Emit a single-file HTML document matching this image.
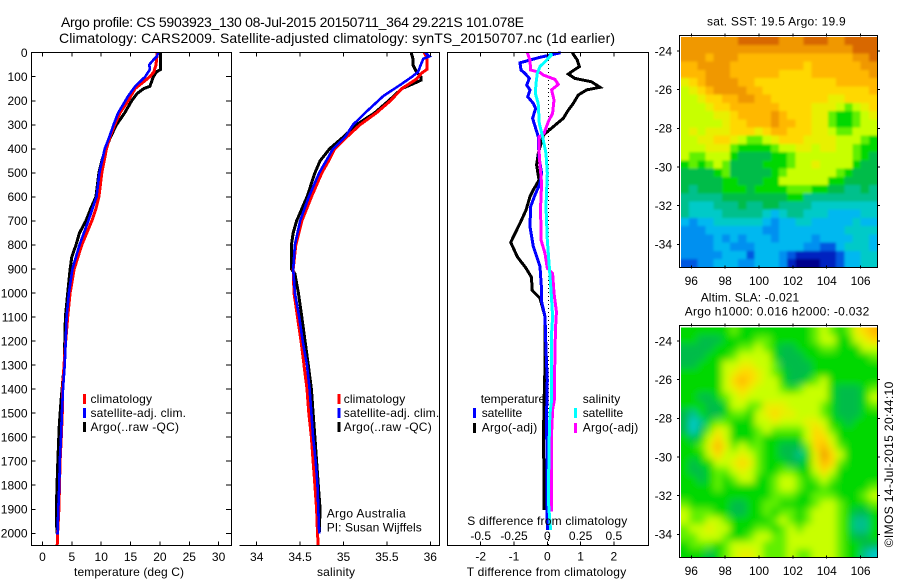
<!DOCTYPE html>
<html lang="en">
<head>
<meta charset="utf-8">
<title>Argo profile CS 5903923_130</title>
<style>
html,body{margin:0;padding:0;background:#fff;}
svg{display:block;}
text{font-family:"Liberation Sans",sans-serif;font-size:12px;fill:#000;}
.t14{font-size:14px;}
.line{fill:none;shape-rendering:crispEdges;stroke-linejoin:miter;}
.ax{stroke:#000;stroke-width:1;shape-rendering:crispEdges;fill:none;}
</style>
</head>
<body>
<svg id="fig" xmlns="http://www.w3.org/2000/svg" width="900" height="580" viewBox="0 0 900 580">
  <defs>
    <filter id="sstBlur" x="0" y="0" width="100%" height="100%"><feGaussianBlur stdDeviation="1.4"/></filter>
    <filter id="slaBlur" x="0" y="0" width="100%" height="100%"><feGaussianBlur stdDeviation="3.6"/></filter>
    <clipPath id="sstClip"><rect x="681" y="37" width="196" height="230.3"/></clipPath>
    <clipPath id="slaClip"><rect x="681" y="327.5" width="196" height="229.8"/></clipPath>
  </defs>
  <rect x="0" y="0" width="900" height="580" fill="#fff"/>
  <text class="t14" x="61" y="27" textLength="463" lengthAdjust="spacing">Argo profile: CS 5903923_130 08-Jul-2015 20150711_364 29.221S 101.078E</text>
  <text class="t14" x="59" y="43" textLength="556" lengthAdjust="spacing">Climatology: CARS2009. Satellite-adjusted climatology: synTS_20150707.nc (1d earlier)</text>

  <g id="maps">
    <g clip-path="url(#sstClip)"><g id="sstCells" filter="url(#sstBlur)"></g></g>
    <g clip-path="url(#slaClip)"><g id="slaCells" filter="url(#slaBlur)"></g></g>
  </g>
  <g id="lines"></g>
  <g id="axes"></g>

  <text x="74" y="576" textLength="110" lengthAdjust="spacing">temperature (deg C)</text>
  <text x="317" y="576" textLength="38" lengthAdjust="spacing">salinity</text>
  <text x="466.7" y="576" textLength="159.5" lengthAdjust="spacing">T difference from climatology</text>
  <text x="467.3" y="525" textLength="160" lengthAdjust="spacing">S difference from climatology</text>

  <g>
    <rect x="83" y="394" width="3" height="10" fill="#f00"/>
    <text x="90.5" y="403" textLength="61.5" lengthAdjust="spacing">climatology</text>
    <rect x="83" y="408" width="3" height="10" fill="#00f"/>
    <text x="90.5" y="417" textLength="95.5" lengthAdjust="spacing">satellite-adj. clim.</text>
    <rect x="83" y="422" width="3" height="10" fill="#000"/>
    <text x="90.5" y="431" textLength="88.5" lengthAdjust="spacing">Argo(..raw -QC)</text>
  </g>
  <g>
    <rect x="337.5" y="394" width="3" height="10" fill="#f00"/>
    <text x="343.7" y="403" textLength="61.5" lengthAdjust="spacing">climatology</text>
    <rect x="337.5" y="408" width="3" height="10" fill="#00f"/>
    <text x="343.7" y="417" textLength="95.5" lengthAdjust="spacing">satellite-adj. clim.</text>
    <rect x="337.5" y="422" width="3" height="10" fill="#000"/>
    <text x="343.7" y="431" textLength="88" lengthAdjust="spacing">Argo(..raw -QC)</text>
  </g>
  <text x="326.7" y="517.5" textLength="79" lengthAdjust="spacing">Argo Australia</text>
  <text x="326.7" y="531.5" textLength="95" lengthAdjust="spacing">PI: Susan Wijffels</text>

  <g>
    <text x="480.7" y="403" textLength="64.5" lengthAdjust="spacing">temperature</text>
    <rect x="473" y="408" width="3" height="10" fill="#00f"/>
    <text x="481.7" y="417" textLength="40.5" lengthAdjust="spacing">satellite</text>
    <rect x="473" y="423" width="3" height="10" fill="#000"/>
    <text x="481.7" y="431.5" textLength="55.5" lengthAdjust="spacing">Argo(-adj)</text>
    <text x="582.7" y="403" textLength="37.5" lengthAdjust="spacing">salinity</text>
    <rect x="574" y="408" width="3" height="10" fill="#0ff"/>
    <text x="582.7" y="417" textLength="40.5" lengthAdjust="spacing">satellite</text>
    <rect x="574" y="423" width="3" height="10" fill="#f0f"/>
    <text x="582.7" y="431.5" textLength="55.5" lengthAdjust="spacing">Argo(-adj)</text>
  </g>

  <text x="707" y="25.5" textLength="138.7" lengthAdjust="spacing">sat. SST: 19.5 Argo: 19.9</text>
  <text x="700.7" y="301.5" textLength="98.5" lengthAdjust="spacing">Altim. SLA: -0.021</text>
  <text x="684.7" y="315.5" textLength="184.6" lengthAdjust="spacing">Argo h1000: 0.016 h2000: -0.032</text>
  <text transform="translate(893,547.3) rotate(-90)" x="0" y="0" textLength="165.6" lengthAdjust="spacing">©IMOS 14-Jul-2015 20:44:10</text>
</svg>

<script>
/* ---------- profile data ---------- */
const depthTicks = [0,100,200,300,400,500,600,700,800,900,1000,1100,1200,1300,1400,1500,1600,1700,1800,1900,2000];
const tempTicks = [0,5,10,15,20,25,30];
const salTicks = [34,34.5,35,35.5,36];
const salTickLabels = ['34','34.5','35','35.5','36'];
const diffTTicks = [-2,-1,0,1,2];
const diffSTicks = [-0.5,-0.25,0,0.25,0.5];
const diffSTickLabels = ['-0.5','-0.25','0','0.25','0.5'];

const climTempDepth = [0,50,80,100,150,200,250,300,350,400,500,600,650,700,800,900,1000,1100,1200,1300,1400,1500,1600,1700,1800,1900,2000,2052];
const climTempValues = [19.56,19.33,18.97,18.3,15.76,14.6,13.2,12.3,11.5,10.9,10.1,9.6,9.1,8.4,6.7,5.4,4.7,4.3,3.95,3.66,3.43,3.37,3.2,3.0,2.9,2.8,2.58,2.5];
const satTempDepth = [0,15,30,50,70,100,140,180,250,300,350,400,500,600,650,700,800,900,1000,1100,1200,1300,1400,1500,1600,1700,1800,1900,2005];
const satTempValues = [19.7,19.5,18.9,18.2,18.3,17.5,15.8,14.6,12.9,12.1,11.4,10.6,9.7,9.2,8.5,7.8,6.3,5.1,4.5,4.1,3.95,3.78,3.5,3.3,3.15,2.95,2.87,2.7,2.55];
const argoTempDepth = [0,70,80,100,140,150,170,200,250,300,350,400,450,500,600,650,700,750,800,850,900,1000,1100,1300,1450,1550,1650,1750,1900,2000];
const argoTempValues = [20.1,20.1,19.4,18.9,18.3,17.2,16.1,15.2,14.0,12.6,11.6,10.8,10.1,9.6,9.1,8.2,7.4,6.3,5.7,5.0,4.7,4.3,3.9,3.7,3.15,2.87,2.7,2.53,2.35,2.45];

const climSalDepth = [0,20,70,85,110,150,200,250,300,350,400,450,500,600,700,800,900,1000,1100,1200,1300,1400,1500,1600,1700,1800,1900,2000,2052];
const climSalValues = [35.93,35.96,35.96,35.9,35.84,35.67,35.54,35.38,35.19,35.04,34.9,34.83,34.75,34.63,34.52,34.45,34.42,34.43,34.47,34.51,34.545,34.58,34.6,34.63,34.65,34.67,34.69,34.7,34.71];
const satSalDepth = [0,15,25,50,80,100,130,180,250,300,350,400,500,600,700,800,900,1000,1100,1200,1300,1400,1500,1600,1700,1800,1900,2000];
const satSalValues = [35.94,35.99,35.92,35.89,35.86,35.79,35.67,35.46,35.25,35.11,35.02,34.88,34.72,34.6,34.5,34.44,34.42,34.44,34.49,34.53,34.58,34.61,34.63,34.65,34.68,34.7,34.71,34.72];
const argoSalDepth = [0,25,50,80,100,115,130,150,200,250,300,350,400,450,500,600,700,750,800,900,920,1000,1100,1300,1400,1500,1600,1700,1800,1900,2000];
const argoSalValues = [35.78,35.8,35.8,35.84,35.89,35.89,35.8,35.67,35.52,35.36,35.15,35.0,34.84,34.73,34.67,34.58,34.46,34.42,34.4,34.4,34.44,34.48,34.52,34.595,34.63,34.65,34.67,34.69,34.71,34.73,34.72];

const diffTSatDepth = [0,19,42,72,86,107,135,155,183,211,232,273,350,433,502,544,592,641,724,807,890,988,1036,1098,1237,1362,1501,1986];
const diffTSatValues = [0.4,-0.22,-0.82,-0.79,-0.67,-0.54,-0.62,-0.52,-0.59,-0.42,-0.35,-0.44,-0.27,-0.25,-0.17,-0.22,-0.37,-0.5,-0.52,-0.42,-0.22,-0.17,-0.17,-0.07,-0.04,0,-0.02,0];
const diffTArgoDepth = [0,31,58,79,89,107,121,144,155,176,211,239,273,308,343,419,467,530,571,599,655,710,789,849,897,935,988,1022,1098,1306,1459,1653,1708,1903];
const diffTArgoValues = [0.75,0.9,0.96,0.73,0.63,0.83,1.33,1.58,1.18,0.93,0.78,0.63,0.48,0.18,-0.12,-0.27,-0.32,-0.25,-0.42,-0.52,-0.64,-0.82,-1.1,-0.9,-0.64,-0.47,-0.46,-0.22,-0.07,-0.07,-0.1,-0.12,-0.1,-0.1];
const diffSSatDepth = [0,10,31,58,86,128,169,211,294,350,419,502,641,779,890,988,1098,1168,1306,1445,1501,1584,1861,1917,1986];
const diffSSatValues = [0.02,0.03,-0.005,-0.055,-0.075,-0.085,-0.09,-0.068,-0.06,-0.035,-0.01,0,-0.01,0,0.015,0.028,0.04,0.0325,0.03,0.0325,0.02,0.015,0.0075,0.015,0.025];
const diffSArgoDepth = [0,31,72,82,93,111,132,155,197,252,287,336,350,433,544,641,779,835,897,918,1001,1084,1098,1223,1445,1487,1584,1910];
const diffSArgoValues = [-0.15,-0.13,-0.125,-0.055,-0.03,0.0575,0.0825,0.0325,0.05,0.04,0.0075,-0.025,-0.0625,-0.06,-0.0425,-0.05,-0.0475,-0.0175,0,0.04,0.05,0.07,0.065,0.0575,0.0525,0.04,0.0325,0.0325];

/* ---------- map data ---------- */
const lonTicks = [96,98,100,102,104,106];
const latTicks = [-24,-26,-28,-30,-32,-34];
const colourClasses = ['#00008c','#0020c0','#0058e0','#0090f0','#00b8f0','#00cac8','#00c08c','#00bc48','#00d800','#60f000','#c8ff00','#e8f000','#ffd800','#ffb800','#f09800','#d86800'];

const sstRows = [
[14,14,14,14,14,14,14,15,15,15,15,15,14,14,14,15,15,15,14,14,15,15,15,15],
[14,14,14,14,14,14,14,14,14,14,14,14,14,14,14,14,14,14,14,14,14,15,15,15],
[14,14,14,13,14,14,14,13,13,13,13,13,13,13,13,13,13,13,13,13,13,14,14,15],
[13,13,14,14,14,14,13,13,13,13,13,13,13,13,13,12,13,13,13,13,13,13,14,14],
[13,13,13,14,14,14,13,13,13,13,13,13,12,12,12,12,13,13,13,13,13,13,13,14],
[11,12,13,14,14,14,14,13,13,12,12,12,12,12,12,12,12,12,12,13,13,13,13,13],
[10,11,12,13,14,14,14,14,13,13,12,12,12,12,12,12,12,12,12,12,12,12,12,13],
[10,10,11,12,12,13,13,14,14,13,13,12,12,12,12,12,12,12,11,11,12,12,12,12],
[10,10,10,11,12,12,13,13,13,13,13,13,12,12,12,12,11,11,11,10,9,10,11,12],
[10,10,10,10,11,11,12,13,13,13,13,14,13,12,12,12,11,11,9,8,8,9,10,11],
[10,10,10,10,10,11,12,12,13,13,13,14,13,13,12,12,11,11,9,8,8,9,10,10],
[10,11,10,11,11,11,12,12,12,11,12,13,13,12,12,12,11,11,10,9,9,10,10,10],
[10,10,11,11,12,12,11,10,9,9,10,11,12,12,12,11,11,11,11,10,10,10,9,8],
[10,10,10,11,11,11,9,8,8,8,8,9,10,10,11,11,10,11,11,10,10,9,8,8],
[10,9,9,10,10,10,8,7,7,7,7,8,8,9,10,10,10,10,10,10,10,9,8,7],
[8,9,8,9,10,9,7,7,7,7,8,8,8,9,10,10,11,10,10,10,10,8,7,7],
[7,7,7,7,8,9,7,7,7,7,7,8,9,10,10,10,10,10,10,9,8,7,7,7],
[7,7,7,7,7,8,8,7,7,7,8,8,10,10,10,10,10,10,8,8,7,7,7,7],
[7,6,7,7,7,8,8,8,7,8,8,8,8,9,9,9,8,8,7,7,6,6,7,6],
[6,6,6,6,6,7,7,7,7,7,7,7,7,8,8,6,6,6,6,6,6,6,6,6],
[6,5,5,5,6,6,6,7,6,6,7,7,6,6,6,6,5,5,5,5,5,5,5,5],
[6,5,5,5,5,6,6,6,6,6,5,4,5,6,6,5,5,5,4,4,4,4,5,5],
[4,3,4,4,5,5,5,5,5,5,4,3,4,4,5,5,4,4,4,4,4,5,4,4],
[3,3,3,4,4,4,4,4,4,4,3,3,4,4,4,4,4,4,4,4,5,5,5,5],
[3,3,3,3,4,3,4,3,4,4,4,3,4,4,4,4,3,4,4,4,4,5,5,4],
[3,3,3,3,4,4,3,3,3,4,4,4,4,4,4,3,3,2,2,4,5,5,5,4],
[3,3,3,3,3,4,4,4,2,4,4,4,3,2,1,1,1,1,1,2,4,4,5,5],
[2,2,3,3,4,4,4,3,3,4,4,4,3,1,0,0,0,1,1,2,4,4,5,5]
];

const slaRows = [
[8,8,8,8,8,8,9,8,8,8,8,8,8,8,8,8,9,10,9,8,9,11,12,13],
[8,8,7,7,7,8,8,8,8,9,9,8,8,8,8,8,9,10,10,8,8,10,11,12],
[7,7,7,7,8,8,8,9,9,10,9,8,7,7,8,8,8,9,9,8,8,8,10,10],
[7,7,7,8,8,8,9,10,10,10,10,8,7,7,7,8,8,8,8,8,8,8,8,9],
[7,7,8,8,8,10,10,11,11,10,10,9,7,7,7,7,8,8,8,8,8,8,8,8],
[8,8,8,8,8,10,11,12,12,11,10,9,8,7,7,7,8,8,8,8,8,8,8,8],
[8,8,8,8,8,10,12,13,12,11,10,10,8,7,7,8,9,10,8,8,8,8,8,8],
[8,8,8,8,8,10,11,12,11,10,10,10,9,8,9,10,10,10,8,7,7,7,8,9],
[8,8,7,7,8,9,10,11,10,10,10,10,10,10,10,10,10,10,8,7,7,7,8,10],
[8,8,8,7,7,8,10,10,9,9,11,11,11,10,10,10,10,9,8,7,7,7,8,9],
[7,6,8,7,7,8,9,9,8,10,11,12,11,11,10,10,10,9,8,7,7,7,8,8],
[7,5,6,8,9,9,8,8,8,10,10,11,10,10,10,11,11,10,8,8,7,8,8,8],
[7,5,7,9,11,10,8,8,8,9,10,9,9,9,9,10,12,11,9,8,8,8,8,8],
[8,7,8,10,12,10,8,8,8,9,8,8,8,8,8,10,12,12,10,8,8,8,8,8],
[8,8,9,11,13,11,9,10,9,9,8,8,7,7,7,9,12,13,11,9,8,8,8,8],
[8,8,8,10,12,10,10,11,10,9,8,8,7,7,6,8,11,14,12,10,8,8,8,8],
[8,7,8,8,10,10,11,12,11,9,8,8,8,7,7,8,11,13,12,9,8,8,8,8],
[8,7,7,8,9,9,10,11,10,9,8,8,9,9,8,8,10,12,10,8,8,8,8,8],
[8,8,7,8,9,8,9,10,10,8,8,9,10,10,9,8,9,10,9,8,8,8,8,8],
[8,8,8,8,9,8,8,8,8,8,8,9,10,10,9,8,8,9,8,8,8,8,8,9],
[8,8,8,8,8,8,8,8,8,8,8,9,9,9,8,8,9,9,9,8,8,8,9,10],
[9,8,8,8,8,8,7,7,8,8,9,9,8,8,8,8,9,10,10,9,8,8,8,9],
[10,9,9,9,8,8,7,7,8,8,9,8,9,9,8,9,10,10,10,9,8,7,7,8],
[10,9,9,10,10,9,8,8,8,8,8,9,10,9,8,9,10,10,10,9,8,6,6,8],
[9,10,10,11,10,10,8,8,8,9,9,8,9,10,9,10,10,10,10,9,8,6,6,8],
[9,9,10,10,10,9,8,8,9,10,10,9,9,10,10,10,10,10,10,9,8,7,7,8],
[8,9,9,9,8,9,10,10,10,10,9,9,9,10,10,10,10,10,10,9,8,8,7,7],
[8,8,8,7,8,9,10,11,11,10,9,9,9,10,9,9,10,10,10,9,8,8,6,5]
];

/* ---------- axis functions ---------- */
const NS = 'http://www.w3.org/2000/svg';
const yD = d => 52.7 + 0.2403 * d;
const xT = v => 42.5 + 5.87 * v;
const xS = v => 256.7 + 86.8 * (v - 34);
const xDT = v => 547.3 + 33.3 * v;
const xDS = v => 547.3 + 133.2 * v;
const lonX = lon => 691.3 + 16.93 * (lon - 96);
const sstLatY = lat => 51 + 19.33 * (-24 - lat);
const slaLatY = lat => 341 + 19.33 * (-24 - lat);

function mk(tag, attrs, parent, txt) {
  const el = document.createElementNS(NS, tag);
  for (const k in attrs) el.setAttribute(k, attrs[k]);
  if (txt !== undefined) el.textContent = txt;
  parent.appendChild(el);
  return el;
}

const linesG = document.getElementById('lines');
const axesG = document.getElementById('axes');

/* ---------- series ---------- */
function drawSeries(name, depths, values, xf, colour, width) {
  const pts = depths.map((d, i) => xf(values[i]).toFixed(1) + ',' + yD(d).toFixed(1)).join(' ');
  const pl = mk('polyline', {points: pts, stroke: colour, 'stroke-width': width, class: 'line'}, linesG);
  
  
}
drawSeries('temperature-argo-line', argoTempDepth, argoTempValues, xT, '#000', 3);
drawSeries('temperature-climatology-line', climTempDepth, climTempValues, xT, '#f00', 3);
drawSeries('temperature-satellite-line', satTempDepth, satTempValues, xT, '#00f', 2.6);
drawSeries('salinity-argo-line', argoSalDepth, argoSalValues, xS, '#000', 3);
drawSeries('salinity-climatology-line', climSalDepth, climSalValues, xS, '#f00', 3);
drawSeries('salinity-satellite-line', satSalDepth, satSalValues, xS, '#00f', 2.6);

const zeroLine = mk('line', {x1: 548.5, x2: 548.5, y1: 52, y2: 546, stroke: '#000', 'stroke-width': 1, 'stroke-dasharray': '1 3', 'shape-rendering': 'crispEdges'}, linesG);


drawSeries('t-difference-argo-line', diffTArgoDepth, diffTArgoValues, xDT, '#000', 3);
drawSeries('t-difference-satellite-line', diffTSatDepth, diffTSatValues, xDT, '#00f', 3);
drawSeries('s-difference-argo-line', diffSArgoDepth, diffSArgoValues, xDS, '#f0f', 3);
drawSeries('s-difference-satellite-line', diffSSatDepth, diffSSatValues, xDS, '#0ff', 3);

/* ---------- profile axes ---------- */
function drawFrame(name, sides) {
  const p = mk('path', {d: sides, class: 'ax'}, axesG);
  
  
}
const T = 52.5, B = 545.5;
drawFrame('temperature-panel-frame', `M31.5 ${T}H231.5V${B}H31.5Z`);
drawFrame('salinity-panel-frame', `M239.5 ${T}H439.5V${B}H239.5`);
drawFrame('difference-panel-frame', `M447.5 ${T}V${B}H648.5V${T}Z`);

function tick(name, x1, y1, x2, y2) {
  const t = mk('line', {x1, y1, x2, y2, stroke: '#000', 'stroke-width': 1, 'shape-rendering': 'crispEdges'}, axesG);
  
  
}
function label(name, x, y, anchor, str) {
  const t = mk('text', {x, y, 'text-anchor': anchor}, axesG, str);
  
  
}

depthTicks.forEach(d => {
  tick('depth-tick', 225.8, yD(d), 231.5, yD(d));
  tick('depth-tick', 31.5, yD(d), 35.5, yD(d));
  label('depth-tick-label', 27.5, yD(d) + 4.3, 'end', String(d));
});
tempTicks.forEach(v => {
  tick('temperature-tick', xT(v), T, xT(v), T + 4);
  tick('temperature-tick', xT(v), B, xT(v), B - 4);
  label('temperature-tick-label', xT(v), 561, 'middle', String(v));
});
salTicks.forEach((v, i) => {
  tick('salinity-tick', xS(v), T, xS(v), T + 4);
  tick('salinity-tick', xS(v), B, xS(v), B - 4);
  label('salinity-tick-label', xS(v), 561, 'middle', salTickLabels[i]);
});
diffTTicks.forEach(v => {
  tick('t-difference-tick', xDT(v), T, xDT(v), T + 4);
  tick('t-difference-tick', xDT(v), B, xDT(v), B - 4);
  label('t-difference-tick-label', xDT(v), 560.5, 'middle', String(v));
});
diffSTicks.forEach((v, i) => {
  label('s-difference-tick-label', xDS(v), 540, 'middle', diffSTickLabels[i]);
});

/* ---------- maps ---------- */
function drawMap(prefix, rows, left, right, top, bottom, frameTop, latY, xLabelY) {
  const cellsG = document.getElementById(prefix + 'Cells');
  const bleed = 14;
  const nR = rows.length, nC = rows[0].length;
  const cw = (right - left) / nC, ch = (bottom - top) / nR;
  rows.forEach((row, r) => row.forEach((v, c) => {
    const x0 = left + c * cw - (c === 0 ? bleed : 0);
    const y0 = top + r * ch - (r === 0 ? bleed : 0);
    const x1 = left + (c + 1) * cw + 0.6 + (c === nC - 1 ? bleed : 0);
    const y1 = top + (r + 1) * ch + 0.6 + (r === nR - 1 ? bleed : 0);
    const cell = mk('rect', {
      x: x0.toFixed(1), y: y0.toFixed(1),
      width: (x1 - x0).toFixed(1), height: (y1 - y0).toFixed(1),
      fill: colourClasses[Math.max(0, Math.min(colourClasses.length - 1, Math.round(v)))],
      'shape-rendering': 'crispEdges'
    }, cellsG);
    
    
  }));
  const frame = mk('rect', {x: 679.5, y: frameTop, width: 198, height: bottom - frameTop, class: 'ax'}, axesG);
  
  
  lonTicks.forEach(lon => {
    tick(prefix + '-lon-tick', lonX(lon), bottom - 2, lonX(lon), bottom + 1);
    tick(prefix + '-lon-tick', lonX(lon), frameTop - 2, lonX(lon), frameTop + 1);
    label(prefix + '-lon-tick-label', lonX(lon), xLabelY, 'middle', String(lon));
  });
  latTicks.forEach(lat => {
    tick(prefix + '-lat-tick', 677, latY(lat), 680, latY(lat));
    tick(prefix + '-lat-tick', 877, latY(lat), 880, latY(lat));
    label(prefix + '-lat-tick-label', 672, latY(lat) + 4.3, 'end', String(lat));
  });
}
drawMap('sst', sstRows, 681, 877, 37, 267.3, 35.5, sstLatY, 285);
drawMap('sla', slaRows, 681, 877, 327.5, 557.3, 325.5, slaLatY, 575);
</script>
</body>
</html>
